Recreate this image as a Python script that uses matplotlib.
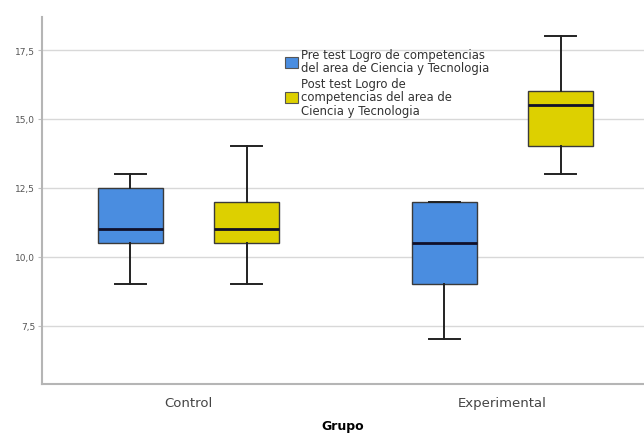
import matplotlib
matplotlib.use("Agg")
import matplotlib.pyplot as plt
import matplotlib.patches as patches

# Groups and series
groups = ["Control", "Experimental"]
series_labels = [
    "Pre test Logro de competencias\ndel area de Ciencia y Tecnologia",
    "Post test Logro de\ncompetencias del area de\nCiencia y Tecnologia",
]

# Box statistics (one value per group)
pre_low = [9.0, 7.0]
pre_q1 = [10.5, 9.0]
pre_med = [11.0, 10.5]
pre_q3 = [12.5, 12.0]
pre_high = [13.0, 12.0]

post_low = [9.0, 13.0]
post_q1 = [10.5, 14.0]
post_med = [11.0, 15.5]
post_q3 = [12.0, 16.0]
post_high = [14.0, 18.0]

y_ticks = [7.5, 10.0, 12.5, 15.0, 17.5]

COLORS = ["#4a8de0", "#ddd000"]
OFFSET = 0.185
BOX_W = 0.205


def box_stats(low, q1, med, q3, high):
    return [dict(whislo=a, q1=b, med=c, q3=d, whishi=e, fliers=[])
            for a, b, c, d, e in zip(low, q1, med, q3, high)]


fig = plt.figure(figsize=(6.44, 4.35), dpi=100)
ax = fig.add_axes([42 / 644, 50 / 435, 602 / 644, 367 / 435])

ax.set_xlim(-0.4666, 1.4506)
ax.set_ylim(5.38, 18.7)

# grid behind the boxes
ax.set_axisbelow(True)
ax.yaxis.grid(True, color="#d8d8d8", linewidth=1)

all_stats = [box_stats(pre_low, pre_q1, pre_med, pre_q3, pre_high),
             box_stats(post_low, post_q1, post_med, post_q3, post_high)]

for k, stats in enumerate(all_stats):
    pos = [i + (k * 2 - 1) * OFFSET for i in range(len(groups))]
    ax.bxp(stats, positions=pos, widths=BOX_W, capwidths=0.1,
           patch_artist=True, showfliers=False, manage_ticks=False,
           boxprops=dict(facecolor=COLORS[k], edgecolor="#3a3a3a", linewidth=1),
           medianprops=dict(color="#10102a", linewidth=2),
           whiskerprops=dict(color="#222222", linewidth=1.4),
           capprops=dict(color="#222222", linewidth=1.4))

# axes styling
for side in ["top", "right"]:
    ax.spines[side].set_visible(False)
for side in ["left", "bottom"]:
    ax.spines[side].set_color("#b5b5b5")
    ax.spines[side].set_linewidth(1.5)

ax.set_yticks(y_ticks)
ax.set_yticklabels([f"{v:.1f}".replace(".", ",") for v in y_ticks])
ax.tick_params(axis="y", length=3, color="#c0c0c0", labelsize=6.5,
               labelcolor="#555555", pad=2)

ax.set_xticks(range(len(groups)))
ax.set_xticklabels(groups)
ax.tick_params(axis="x", length=0, labelsize=9.5, labelcolor="#444444", pad=9)
ax.set_xlabel("Grupo", fontsize=9, fontweight="bold", labelpad=7)

# legend
handles = [patches.Patch(facecolor=c, edgecolor="#555555", linewidth=0.8)
           for c in COLORS]
fig.legend(handles, series_labels, loc="upper left",
           bbox_to_anchor=(285 / 644, 1 - 49 / 435), frameon=False,
           fontsize=8.4, handlelength=1.1, handleheight=1.1,
           handletextpad=0.3, labelspacing=0.2, borderpad=0,
           borderaxespad=0, labelcolor="#333333")
for t in fig.legends[0].get_texts():
    t.set_linespacing(1.05)

fig.savefig("out.png", dpi=100)
